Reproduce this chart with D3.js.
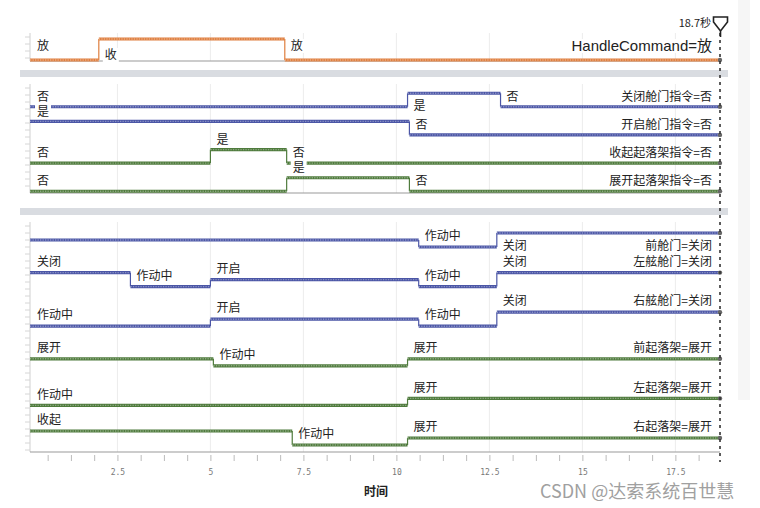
<!DOCTYPE html>
<meta charset="utf-8">
<style>
    body { margin: 0; background: #fff; }
    svg text { font-family: "Noto Sans CJK SC", "Noto Sans", sans-serif; }
    .lbl { font-size: 12px; fill: #222; }
    .tick-lbl { font-family: "DejaVu Sans Mono", monospace; font-size: 8px; fill: #777; }
</style>
<svg width="760" height="508"></svg>
<script src="https://cdnjs.cloudflare.com/ajax/libs/d3/7.8.5/d3.min.js"></script>
<script>

    // ---- data ----
    var tStart = 0.15, tEnd = 18.7;
    var timeTicks = [2.5, 5, 7.5, 10, 12.5, 15, 17.5];
    var minorStep = 0.625;

    // panel 1
    var handleNames = ["HandleCommand"];
    var handleStates = ["收", "放"];
    var handleSegs = {
        "HandleCommand": [[tStart, "放"], [2.0, "收"], [7.0, "放"]]
    };

    // panel 2
    var cmdNames = ["关闭舱门指令", "开启舱门指令", "收起起落架指令", "展开起落架指令"];
    var cmdStates = ["是", "否"];
    var cmdSegs = {
        "关闭舱门指令": [[tStart, "否"], [10.3, "是"], [12.8, "否"]],
        "开启舱门指令": [[tStart, "是"], [10.35, "否"]],
        "收起起落架指令": [[tStart, "否"], [5.0, "是"], [7.05, "否"]],
        "展开起落架指令": [[tStart, "否"], [7.05, "是"], [10.35, "否"]]
    };

    // panel 3
    var stateNames = ["前舱门", "左舷舱门", "右舷舱门", "前起落架", "左起落架", "右起落架"];
    var doorStates = ["关闭", "开启", "作动中"];
    var gearStates = ["收起", "展开", "作动中"];
    var stateSegs = {
        "前舱门": [[tStart, "开启"], [10.6, "作动中"], [12.7, "关闭"]],
        "左舷舱门": [[tStart, "关闭"], [2.85, "作动中"], [5.0, "开启"], [10.6, "作动中"], [12.7, "关闭"]],
        "右舷舱门": [[tStart, "作动中"], [5.0, "开启"], [10.6, "作动中"], [12.7, "关闭"]],
        "前起落架": [[tStart, "展开"], [5.08, "作动中"], [10.3, "展开"]],
        "左起落架": [[tStart, "作动中"], [10.3, "展开"]],
        "右起落架": [[tStart, "收起"], [7.2, "作动中"], [10.3, "展开"]]
    };
    var noStartLabel = ["前舱门"];

    // ---- drawing ----
    var svg = d3.select("svg");
    var blue = "#4b56a6", green = "#4f7b3d", orange = "#df7e3e";

    var x = d3.scaleLinear().domain([tStart, tEnd]).range([30, 720]);

    var panels = [
        {names: handleNames, segs: handleSegs, top: 33, bottom: 61, first: 49.5, last: 49.5,
         levels: function() { return handleStates; }, spread: 21, up: 14, down: 16,
         color: function() { return orange; }, fontSize: 15},
        {names: cmdNames, segs: cmdSegs, top: 84, bottom: 193, first: 100, last: 184.5,
         levels: function() { return cmdStates; }, spread: 13.5, up: 10, down: 13,
         color: function(n, i) { return i < 2 ? blue : green; }, fontSize: 12},
        {names: stateNames, segs: stateSegs, top: 222, bottom: 452, first: 240, last: 438,
         levels: function(n, i) { return i < 3 ? doorStates : gearStates; }, spread: 14, up: 11, down: 13,
         color: function(n, i) { return i < 3 ? blue : green; }, fontSize: 12}
    ];

    // right strip and separators
    svg.append("rect").attr("x", 738).attr("y", 0).attr("width", 12).attr("height", 400).attr("fill", "#f6f6f6");
    svg.append("rect").attr("x", 20).attr("y", 70).attr("width", 708).attr("height", 7).attr("fill", "#d9dce1");
    svg.append("rect").attr("x", 20).attr("y", 208).attr("width", 708).attr("height", 7).attr("fill", "#d9dce1");

    panels.forEach(function(p) {
        var g = svg.append("g");

        // faint grid
        g.selectAll("line.grid").data(timeTicks).enter().append("line")
            .attr("x1", function(d) { return x(d); }).attr("x2", function(d) { return x(d); })
            .attr("y1", p.top).attr("y2", p.bottom)
            .attr("stroke", "#ececec");

        // left border with small ticks
        g.append("line").attr("x1", 30).attr("x2", 30).attr("y1", p.top).attr("y2", p.bottom)
            .attr("stroke", "#d0d0d0");
        g.selectAll("line.ytick").data(d3.range(p.top + 4, p.bottom, 7)).enter().append("line")
            .attr("x1", 25).attr("x2", 30).attr("y1", function(d) { return d; }).attr("y2", function(d) { return d; })
            .attr("stroke", "#d6d6d6");

        // bottom line
        g.append("line").attr("x1", 30).attr("x2", x(tEnd)).attr("y1", p.bottom).attr("y2", p.bottom)
            .attr("stroke", "#999").attr("stroke-width", 1.2);

        var row = d3.scalePoint().domain(p.names).range([p.first, p.last]);
        var labels = [];

        p.names.forEach(function(name, i) {
            var states = p.levels(name, i);
            var lvl = d3.scalePoint().domain(states)
                .range([row(name) - p.spread / 2, row(name) + p.spread / 2]);
            var col = p.color(name, i);
            var segs = p.segs[name];
            var rg = g.append("g");

            segs.forEach(function(s, k) {
                var t1 = k < segs.length - 1 ? segs[k + 1][0] : tEnd;
                var y = lvl(s[1]);
                // vertical edge
                if (k > 0) {
                    rg.append("line")
                        .attr("x1", x(s[0])).attr("x2", x(s[0]))
                        .attr("y1", lvl(segs[k - 1][1])).attr("y2", y)
                        .attr("stroke", col).attr("stroke-width", 1.2);
                }
                rg.append("line")
                    .attr("x1", x(s[0])).attr("x2", x(t1)).attr("y1", y).attr("y2", y)
                    .attr("stroke", col).attr("stroke-width", 3.2);
                rg.append("line")
                    .attr("x1", x(s[0])).attr("x2", x(t1)).attr("y1", y).attr("y2", y)
                    .attr("stroke", "#fff").attr("stroke-opacity", 0.35)
                    .attr("stroke-width", 1.4).attr("stroke-dasharray", "1.3 1.2");

                // label above the line, below for the top level of the first row
                var below = (i === 0 && s[1] === states[0]);
                var ly = below ? y + p.down : y - p.up;
                if (!(k === 0 && noStartLabel.indexOf(name) >= 0)) {
                    labels.push({x: k === 0 ? 37 : x(s[0]) + 6, y: ly, text: s[1], anchor: "start", size: 12});
                }
                if (k === segs.length - 1) {
                    labels.push({x: 712, y: ly, text: name + "=" + s[1], anchor: "end", size: p.fontSize});
                    rg.append("circle").attr("cx", x(tEnd)).attr("cy", y).attr("r", 2.2)
                        .attr("fill", "#666");
                }
            });
        });

        // labels on white boxes that hide the lines behind them
        labels.forEach(function(l) {
            var lg = g.append("g");
            var bg = lg.append("rect").attr("fill", "#fff");
            var t = lg.append("text")
                .attr("class", "lbl")
                .attr("x", l.x).attr("y", l.y)
                .attr("dy", "0.35em")
                .attr("text-anchor", l.anchor)
                .style("font-size", l.size + "px")
                .style("font-family", l.size > 12 ? "'Liberation Sans', 'Noto Sans CJK SC', sans-serif" : null)
                .text(l.text);
            var b = t.node().getBBox();
            bg.attr("x", b.x - 2).attr("y", l.y - 7).attr("width", b.width + 4).attr("height", 14);
        });
    });

    // time axis
    var axisY = 455;
    svg.append("g")
        .attr("transform", "translate(0," + axisY + ")")
        .call(d3.axisBottom(x).tickValues(d3.range(minorStep, tEnd, minorStep)).tickSize(6).tickFormat(""))
        .call(function(a) {
            a.select(".domain").remove();
            a.selectAll("text").remove();
            a.selectAll("line").attr("stroke", "#bbb");
        });
    svg.append("g")
        .attr("transform", "translate(0," + axisY + ")")
        .call(d3.axisBottom(x).tickValues(timeTicks).tickSize(0).tickPadding(14)
            .tickFormat(function(d) { return d3.format("")(d); }))
        .call(function(a) {
            a.select(".domain").remove();
            a.selectAll("text").attr("class", "tick-lbl").attr("fill", null);
        });

    svg.append("text").attr("x", 376).attr("y", 496).attr("text-anchor", "middle")
        .style("font-size", "12px").style("font-weight", "bold").attr("fill", "#222").text("时间");

    // cursor
    svg.append("line").attr("x1", x(tEnd)).attr("x2", x(tEnd)).attr("y1", 33).attr("y2", 462)
        .attr("stroke", "#333").attr("stroke-width", 1.6).attr("stroke-dasharray", "3 4");
    svg.append("path")
        .attr("d", "M713.5,17 H727.5 V22 L720.5,31 L713.5,22 Z M720.5,31 V37")
        .attr("fill", "#fff").attr("stroke", "#222").attr("stroke-width", 1.6);
    svg.append("text").attr("x", 711).attr("y", 27).attr("text-anchor", "end")
        .style("font-size", "11px").attr("fill", "#222").text(tEnd + "秒");

    // watermark
    svg.append("text").attr("x", 540).attr("y", 498)
        .style("font-size", "18px").attr("fill", "#a0a0a0").text("CSDN @达索系统百世慧");

</script>
